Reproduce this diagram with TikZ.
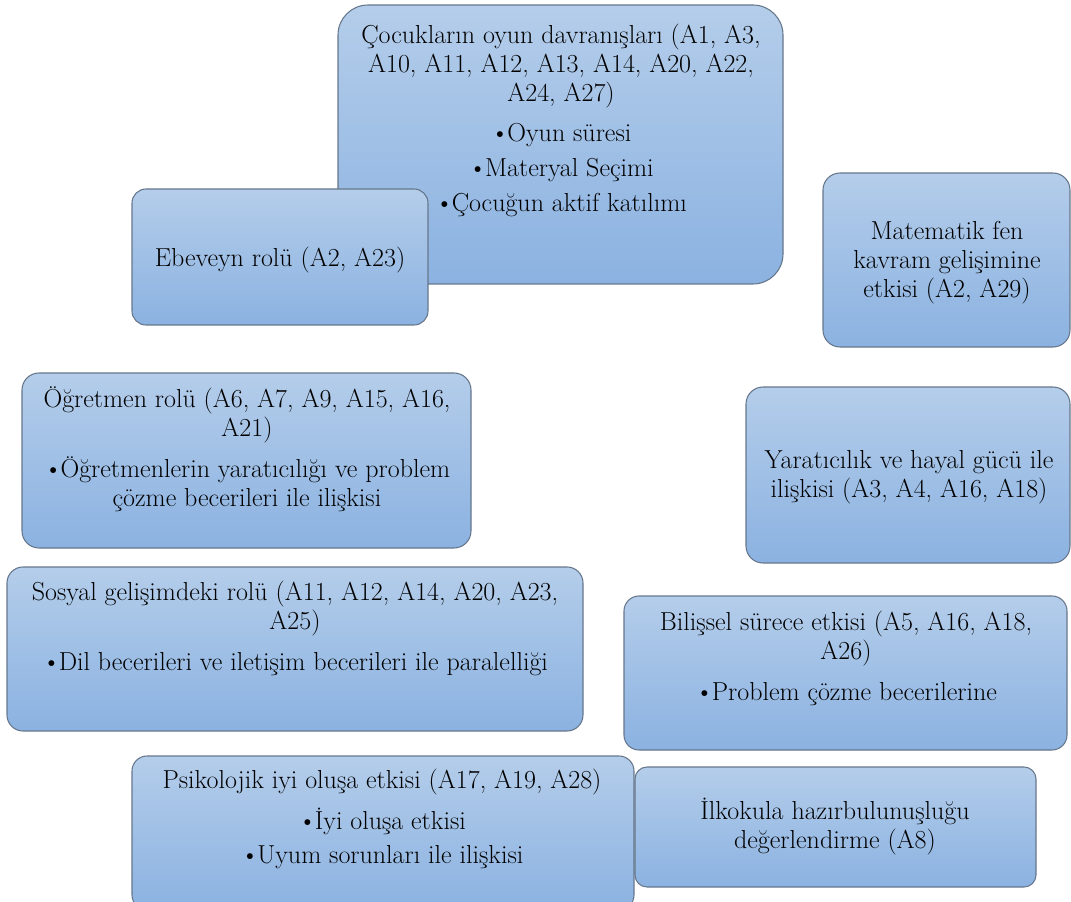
\documentclass[tikz,border=0pt]{standalone}
\usepackage{fontspec}
\usetikzlibrary{fit}
\definecolor{boxtop}{HTML}{B4CDEA}
\definecolor{boxbot}{HTML}{8BB2E1}
\definecolor{boxline}{HTML}{66778C}
\newcommand{\fl}{\rule{0pt}{1em}}
\newcommand{\bul}{\textbullet\kern-1.5pt}
\tikzset{
  box/.style={draw=boxline, line width=0.8pt, top color=boxtop, bottom color=boxbot, inner sep=0pt},
  txt/.style={anchor=north, align=center, inner sep=0pt, text=black,
    font=\fontsize{19.5pt}{21.75pt}\selectfont},
}
\begin{document}
\begin{tikzpicture}[x=0.75pt,y=-0.75pt]
\useasboundingbox (0,0) rectangle (1071,902);
% boxes
\node[box, rounded corners=30*0.75pt, fit={(338,5) (783,284)}] (bA) {};
\node[box, rounded corners=14*0.75pt, fit={(132,189) (428,325)}] (bB) {};
\node[box, rounded corners=17*0.75pt, fit={(823,173) (1070,347)}] (bC) {};
\node[box, rounded corners=17*0.75pt, fit={(22,373) (471,548)}] (bD) {};
\node[box, rounded corners=17*0.75pt, fit={(746,387) (1070,563)}] (bE) {};
\node[box, rounded corners=16*0.75pt, fit={(7,567) (583,731)}] (bF) {};
\node[box, rounded corners=15*0.75pt, fit={(624,596) (1067,750)}] (bG) {};
\node[box, rounded corners=15*0.75pt, fit={(132,756) (634,910)}] (bH) {};
\node[box, rounded corners=12*0.75pt, fit={(635,767) (1036,887)}] (bI) {};
% texts (north = first baseline - 1em = baseline - 26px)
\node[txt] (tA) at (561,43-26) {\fl Çocukların oyun davranışları (A1, A3,\\
  A10, A11, A12, A13, A14, A20, A22,\\
  A24, A27)\\[8.25pt]
  \bul Oyun süresi\\[4.5pt]
  \bul Materyal Seçimi\\[4.5pt]
  \bul Çocuğun aktif katılımı};
\node[txt] (tB) at (280,266-26) {\fl Ebeveyn rolü (A2, A23)};
\node[txt] (tC) at (947,239-26) {\fl Matematik fen\\ kavram gelişimine\\ etkisi (A2, A29)};
\node[txt] (tD) at (247,407-26) {\fl Öğretmen rolü (A6, A7, A9, A15, A16,\\
  A21)\\[9pt]
  \bul Öğretmenlerin yaratıcılığı ve problem\\
  çözme becerileri ile ilişkisi};
\node[txt] (tE) at (909,468-26) {\fl Yaratıcılık ve hayal gücü ile\\ ilişkisi (A3, A4, A16, A18)};
\node[txt] (tF) at (295,600-26) {\fl Sosyal gelişimdeki rolü (A11, A12, A14, A20, A23,\\
  A25)\\[9pt]
  \bul Dil becerileri ve iletişim becerileri ile paralelliği};
\node[txt] (tG) at (846,630-26) {\fl Bilişsel sürece etkisi (A5, A16, A18,\\
  A26)\\[9pt]
  \bul Problem çözme becerilerine};
\node[txt] (tH) at (382,788-26) {\fl Psikolojik iyi oluşa etkisi (A17, A19, A28)\\[9pt]
  \bul İyi oluşa etkisi\\[3.75pt]
  \bul Uyum sorunları ile ilişkisi};
\node[txt] (tI) at (835,819-26) {\fl İlkokula hazırbulunuşluğu\\ değerlendirme (A8)};
\end{tikzpicture}
\end{document}
